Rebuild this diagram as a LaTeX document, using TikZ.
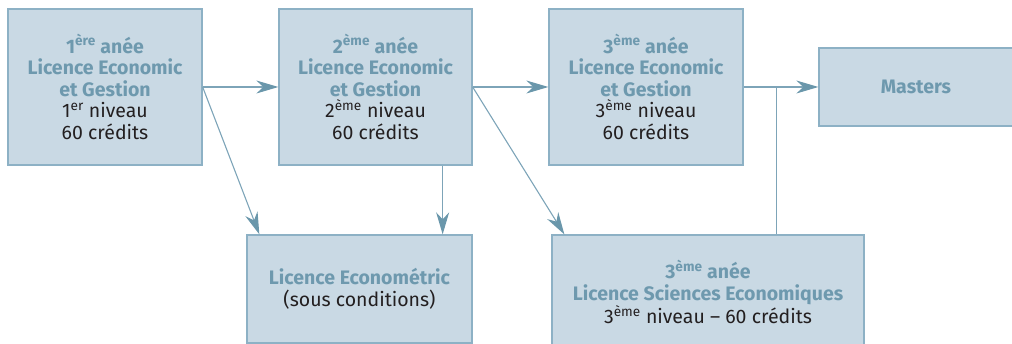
\documentclass[tikz,border=0pt]{standalone}
\usepackage{fontspec}
\setmainfont{Fira Sans}
\usetikzlibrary{arrows.meta,positioning}
\definecolor{boxfill}{HTML}{C9D9E4}
\definecolor{boxline}{HTML}{8DB1C5}
\definecolor{titleblue}{HTML}{6E99AE}
\definecolor{linkblue}{HTML}{7DA4B8}
\definecolor{tipblue}{HTML}{6A97AB}
\definecolor{inkblack}{HTML}{231F20}
\newcommand{\ttl}[1]{\textcolor{titleblue}{\bfseries #1}}

\begin{document}
\begin{tikzpicture}[x=1pt,y=-1pt,
        box/.style = {draw=boxline, fill=boxfill, line width=1.3pt, inner sep=0pt, align=center,
            text=inkblack, font=\fontsize{19.5}{21.5}\selectfont},
        link/.style = {draw=linkblue, line width=1.1pt,
            -{Stealth[length=22pt,width=13pt,inset=7pt,color=tipblue]}},]
        \useasboundingbox (0,0) rectangle (1012,344);
        \node[box, minimum width=194pt, minimum height=156pt] (y1) at (105,87)
            {\ttl{1\textsuperscript{ère} anée}\\\ttl{Licence Economic}\\\ttl{et Gestion}\\1\textsuperscript{er} niveau\\60 crédits};
        \node[box, minimum width=193pt, minimum height=156pt] (y2) at (375.5,87)
            {\ttl{2\textsuperscript{ème} anée}\\\ttl{Licence Economic}\\\ttl{et Gestion}\\2\textsuperscript{ème} niveau\\60 crédits};
        \node[box, minimum width=194pt, minimum height=156pt] (y3) at (646,87)
            {\ttl{3\textsuperscript{ème} anée}\\\ttl{Licence Economic}\\\ttl{et Gestion}\\3\textsuperscript{ème} niveau\\60 crédits};
        \node[box, minimum width=194pt, minimum height=78pt] (masters) at (916,87) {\ttl{Masters}};
        \node[box, minimum width=225pt, minimum height=108pt] (econ) at (359.5,289)
            {\ttl{Licence Econométric}\\(sous conditions)};
        \node[box, minimum width=312pt, minimum height=114pt] (sci) at (708,292)
            {\ttl{3\textsuperscript{ème} anée}\\\ttl{Licence Sciences Economiques}\\3\textsuperscript{ème} niveau -- 60 crédits};

        \draw[link] (y1.east) -- (y2.west);
        \draw[link] (y1.east) -- ([xshift=13pt]econ.north west);
        \draw[link] ([xshift=-30pt]y2.south east) -- ([xshift=-30pt]econ.north east);
        \draw[link] (y2.east) -- (y3.west);
        \draw[link] (y2.east) -- ([xshift=13pt]sci.north west);
        \draw[link] (y3.east) -- (masters.west);
        \draw[draw=linkblue, line width=1.1pt] ([xshift=225pt]sci.north west) |- (y3.east);
    \end{tikzpicture}
\end{document}
